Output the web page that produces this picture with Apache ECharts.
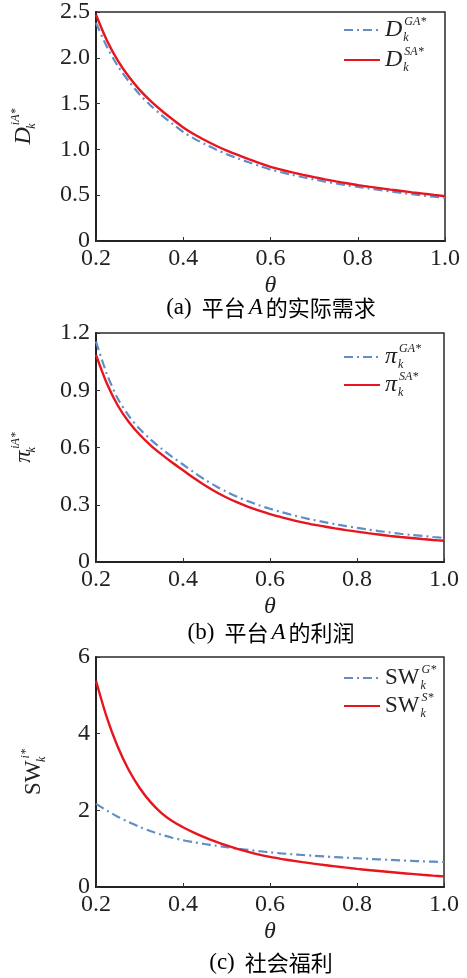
<!DOCTYPE html>
<html><head><meta charset="utf-8">
<script src="https://cdn.jsdelivr.net/npm/echarts@6/dist/echarts.min.js"></script>
<style>html,body{margin:0;padding:0;background:#fff}#c{width:467px;height:978px}</style>
</head><body><div id="c"></div>
<script>
// theta sample points (x)
const theta = [0.2, 0.225, 0.25, 0.275, 0.3, 0.325, 0.35, 0.375, 0.4, 0.425, 0.45, 0.475, 0.5,
  0.525, 0.55, 0.575, 0.6, 0.625, 0.65, 0.675, 0.7, 0.725, 0.75, 0.775, 0.8,
  0.825, 0.85, 0.875, 0.9, 0.925, 0.95, 0.975, 1.0];
// (a) actual demand of platform A
const demandGA = [2.38, 2.12, 1.91, 1.745, 1.60, 1.48, 1.375, 1.28, 1.19, 1.118, 1.056, 0.999, 0.948,
  0.902, 0.859, 0.819, 0.78, 0.75, 0.722, 0.696, 0.672, 0.649, 0.628, 0.608, 0.59,
  0.573, 0.557, 0.541, 0.526, 0.511, 0.497, 0.483, 0.47];
const demandSA = [2.47, 2.19, 1.97, 1.795, 1.65, 1.53, 1.425, 1.33, 1.24, 1.165, 1.10, 1.04, 0.987,
  0.939, 0.894, 0.851, 0.81, 0.778, 0.749, 0.722, 0.697, 0.673, 0.651, 0.63, 0.61,
  0.593, 0.577, 0.561, 0.546, 0.531, 0.517, 0.503, 0.49];
// (b) profit of platform A
const profitGA = [1.155, 0.985, 0.857, 0.767, 0.698, 0.643, 0.595, 0.551, 0.511, 0.47, 0.432, 0.398, 0.368,
  0.341, 0.318, 0.297, 0.279, 0.2625, 0.247, 0.233, 0.22, 0.209, 0.198, 0.188, 0.179,
  0.17, 0.162, 0.155, 0.148, 0.142, 0.137, 0.131, 0.126];
const profitSA = [1.085, 0.935, 0.82, 0.735, 0.668, 0.613, 0.565, 0.521, 0.481, 0.44, 0.402, 0.368, 0.338,
  0.312, 0.289, 0.269, 0.251, 0.2355, 0.221, 0.208, 0.196, 0.186, 0.176, 0.167, 0.159,
  0.151, 0.144, 0.137, 0.131, 0.126, 0.1205, 0.1156, 0.111];
// (c) social welfare
const welfareG = [2.17, 1.995, 1.835, 1.695, 1.57, 1.46, 1.365, 1.285, 1.22, 1.168, 1.121, 1.079, 1.04,
  1.003, 0.968, 0.935, 0.905, 0.879, 0.856, 0.835, 0.815, 0.797, 0.78, 0.764, 0.75,
  0.735, 0.721, 0.708, 0.695, 0.683, 0.671, 0.66, 0.65];
const welfareS = [5.38, 4.42, 3.66, 3.06, 2.59, 2.22, 1.935, 1.72, 1.56, 1.42, 1.295, 1.185, 1.085,
  0.995, 0.915, 0.845, 0.785, 0.735, 0.69, 0.648, 0.609, 0.573, 0.539, 0.505, 0.472,
  0.444, 0.417, 0.391, 0.366, 0.342, 0.319, 0.297, 0.276];
// axis ranges [min, max, interval]
const xRange = [0.2, 1.0, 0.2];
const yRangeA = [0, 2.5, 0.5];
const yRangeB = [0, 1.2, 0.3];
const yRangeC = [0, 6, 2];

const SERIF = '"Liberation Serif", "DejaVu Serif", serif';
const CJK = '"Noto Sans CJK SC", "Noto Sans CJK JP", sans-serif';
const INK = '#222';
const BLUE = '#5f8fc4';
const RED = '#e8141e';

const rich = {
  it: {fontFamily: SERIF, fontStyle: 'italic', fontSize: 24, lineHeight: 28, color: INK},
  up: {fontFamily: SERIF, fontSize: 23, lineHeight: 28, color: INK},
  k: {fontFamily: SERIF, fontStyle: 'italic', fontSize: 12, lineHeight: 12, width: 0, verticalAlign: 'bottom', color: INK, padding: [0, 0, 0, 1]},
  sup: {fontFamily: SERIF, fontStyle: 'italic', fontSize: 12, lineHeight: 12, verticalAlign: 'top', color: INK, padding: [0, 0, 0, 1]}
};
const tickRich = {n: {fontFamily: SERIF, fontSize: 24, color: INK}};

const legendText = {
  DGA: '{it|D}{k|k}{sup|GA*}',
  DSA: '{it|D}{k|k}{sup|SA*}',
  piGA: '{it|π}{k|k}{sup|GA*}',
  piSA: '{it|π}{k|k}{sup|SA*}',
  SWG: '{up|SW}{k|k}{sup|G*}',
  SWS: '{up|SW}{k|k}{sup|S*}'
};

const pairs = arr => theta.map((t, i) => [t, arr[i]]);
const fmt1 = v => '{n|' + (v === 0 ? '0' : v.toFixed(1)) + '}';
const fmt0 = v => '{n|' + String(Math.round(v)) + '}';

const grids = [
  {left: 96, top: 12, width: 349, height: 229},
  {left: 96, top: 333, width: 348, height: 229},
  {left: 96, top: 657, width: 348, height: 230}
].map(g => Object.assign(g, {show: true, borderColor: '#2a2a2a', borderWidth: 1.5, backgroundColor: '#fff', containLabel: false, outerBoundsMode: 'none'}));

function xAxisFor(i) {
  return {
    type: 'value', gridIndex: i, min: xRange[0], max: xRange[1], interval: xRange[2],
    axisLine: {show: true, onZero: false, lineStyle: {color: '#222', width: 2}},
    axisTick: {show: true, inside: true, length: 4, lineStyle: {color: '#333'}},
    splitLine: {show: false},
    axisLabel: {margin: 6, formatter: fmt1, rich: tickRich},
    name: 'θ', nameLocation: 'middle', nameGap: 33,
    nameTextStyle: {fontFamily: SERIF, fontStyle: 'italic', fontSize: 24, color: INK}
  };
}
function yAxisFor(i, range, fmt, name, gap) {
  return {
    type: 'value', gridIndex: i, min: range[0], max: range[1], interval: range[2],
    axisLine: {show: true, onZero: false, lineStyle: {color: '#222', width: 2}},
    axisTick: {show: true, inside: true, length: 4, lineStyle: {color: '#333'}},
    splitLine: {show: false},
    axisLabel: {margin: 6, formatter: fmt, rich: tickRich},
    name: name, nameLocation: 'middle', nameRotate: 90, nameGap: gap,
    nameTextStyle: {rich: rich}
  };
}

function line(name, data, idx, dashed) {
  return {
    name: name, type: 'line', xAxisIndex: idx, yAxisIndex: idx, data: data,
    showSymbol: false, symbol: 'none', smooth: 0.3,
    lineStyle: dashed ? {color: BLUE, width: 2.2, type: [9, 4, 2, 4]} : {color: RED, width: 2.4},
    itemStyle: {color: dashed ? BLUE : RED},
    z: dashed ? 3 : 4
  };
}

function legendFor(names, top, gap) {
  return {
    data: names, orient: 'vertical', left: 343, top: top, padding: 0, itemGap: gap,
    itemWidth: 36, itemHeight: 12, selectedMode: false,
    itemStyle: {opacity: 0, borderWidth: 0, color: 'rgba(0,0,0,0)'},
    formatter: n => legendText[n],
    textStyle: {rich: rich}
  };
}

function caption(y, label, pre, letter, post) {
  let txt = '{p|' + label + '}{c|' + pre + '}';
  if (letter) txt += '{a|' + letter + '}';
  if (post) txt += '{c|' + post + '}';
  return {
    type: 'text', x: 271, y: y,
    style: {
      text: txt, align: 'center', verticalAlign: 'middle',
      rich: {
        p: {fontFamily: SERIF, fontSize: 23, color: INK, padding: [0, 10, 0, 0]},
        c: {fontFamily: CJK, fontSize: 22, color: INK},
        a: {fontFamily: SERIF, fontStyle: 'italic', fontSize: 23, color: INK, padding: [0, 3, 0, 3]}
      }
    }
  };
}

const chart = echarts.init(document.getElementById('c'), null, {renderer: 'canvas'});
chart.setOption({
  backgroundColor: '#fff',
  animation: false,
  textStyle: {fontFamily: SERIF},
  grid: grids,
  xAxis: [xAxisFor(0), xAxisFor(1), xAxisFor(2)],
  yAxis: [
    yAxisFor(0, yRangeA, fmt1, '{it|D}{k|k}{sup|iA*}', 58),
    yAxisFor(1, yRangeB, fmt1, '{it|π}{k|k}{sup|iA*}', 58),
    yAxisFor(2, yRangeC, fmt0, '{up|SW}{k|k}{sup|i*}', 48)
  ],
  legend: [
    legendFor(['DGA', 'DSA'], 16, 2),
    legendFor(['piGA', 'piSA'], 343, 0),
    legendFor(['SWG', 'SWS'], 664, 0)
  ],
  series: [
    line('DGA', pairs(demandGA), 0, true),
    line('DSA', pairs(demandSA), 0, false),
    line('piGA', pairs(profitGA), 1, true),
    line('piSA', pairs(profitSA), 1, false),
    line('SWG', pairs(welfareG), 2, true),
    line('SWS', pairs(welfareS), 2, false)
  ],
  graphic: [
    caption(308, '(a)', '平台', 'A', '的实际需求'),
    caption(633, '(b)', '平台', 'A', '的利润'),
    caption(963, '(c)', '社会福利', '', '')
  ]
});
</script></body></html>
